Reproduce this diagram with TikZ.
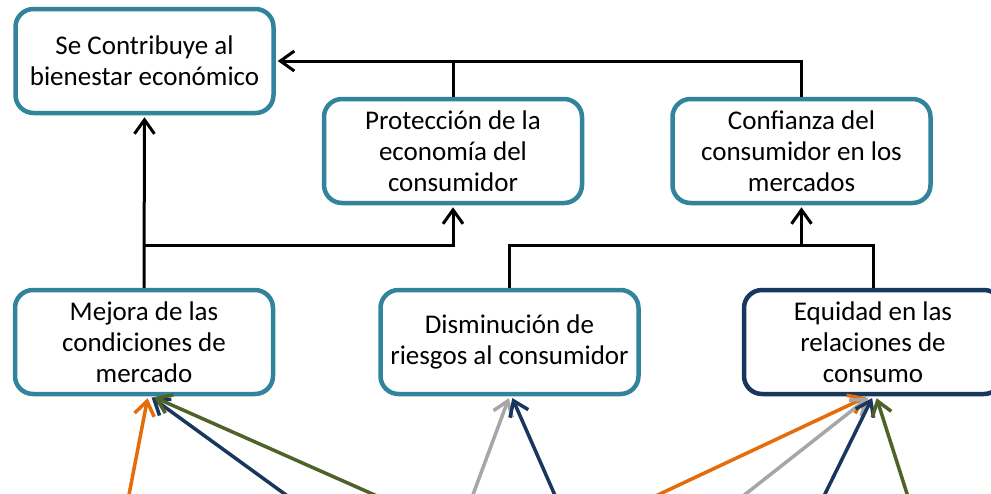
\documentclass[tikz,border=0pt]{standalone}
\usepackage{fontspec}
\setmainfont{Carlito}
\usetikzlibrary{arrows.meta}
\definecolor{teal}{HTML}{31849B}
\definecolor{navybox}{HTML}{17375E}
\definecolor{corange}{HTML}{E46C0A}
\definecolor{cnavy}{HTML}{17375E}
\definecolor{colive}{HTML}{4F6228}
\definecolor{cgray}{HTML}{A6A6A6}
\tikzset{
  box/.style={draw=teal, line width=4.5pt, rounded corners=18pt, fill=white,
    minimum width=258pt, minimum height=104pt, align=center,
    font=\fontsize{27}{31}\selectfont, inner sep=0pt},
  conn/.style={draw=black, line width=3pt},
  tip/.style={-{Straight Barb[length=14pt,width=20pt]}, shorten >=2pt},
  carr/.style={line width=3.5pt, tip}
}
\begin{document}
\begin{tikzpicture}[x=1pt,y=-1pt]
\useasboundingbox (0,0) rectangle (991,493);
\clip (0,0) rectangle (991,493);
\node[box] (n1) at (144.5,61) {Se Contribuye al\\bienestar económico};
\node[box] (n2) at (453,151) {Protección de la\\economía del\\consumidor};
\node[box] (n3) at (801.5,151) {Confianza del\\consumidor en los\\mercados};
\node[box] (n4) at (144,342) {Mejora de las\\condiciones de\\mercado};
\node[box] (n5) at (509.5,342) {Disminución de\\riesgos al consumidor};
\node[box, draw=navybox] (n6) at (873,342) {Equidad en las\\relaciones de\\consumo};
% top connectors
\draw[conn, tip] (n3.north) |- (n1.east);
\draw[conn] (n2.north) -- (n2.north |- n1.east);
% left connectors
\draw[conn, tip] (n4.north) -- (n1.south);
\path (n4.north) ++(0,-42) coordinate (j1);
\draw[conn, tip] (j1) -| (n2.south);
% middle connectors
\path (n5.north) ++(0,-42) coordinate (j2);
\draw[conn] (n5.north) -- (j2) -| (n6.north);
\draw[conn, tip] (j2 -| n3.south) -- (n3.south);
% coloured arrows
\coordinate (a1) at (128,500);
\coordinate (a2) at (293,500);
\coordinate (a3) at (386,500);
\coordinate (a4) at (471,500);
\coordinate (a5) at (557,500);
\coordinate (a6) at (647,500);
\coordinate (a7) at (738,500);
\coordinate (a8) at (822,500);
\coordinate (a9) at (909,500);
\draw[carr, corange] (a1) -- ([xshift=4pt]n4.south);
\draw[carr, cnavy] (a2) -- ([xshift=6pt]n4.south);
\draw[carr, colive] (a3) -- ([xshift=8pt]n4.south);
\draw[carr, cgray] (a4) -- (n5.south);
\draw[carr, cnavy] (a5) -- ([xshift=2pt]n5.south);
\draw[carr, corange] (a6) -- ([xshift=-5pt]n6.south);
\draw[carr, cgray] (a7) -- ([xshift=-3pt]n6.south);
\draw[carr, cnavy] (a8) -- (n6.south);
\draw[carr, colive] (a9) -- ([xshift=3pt]n6.south);
\end{tikzpicture}
\end{document}
